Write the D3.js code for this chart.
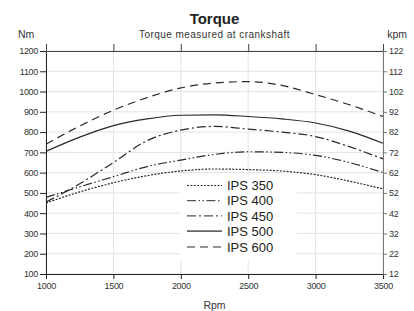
<!DOCTYPE html>
<html>
<head>
<meta charset="utf-8">
<script src="https://cdn.jsdelivr.net/npm/d3@7"></script>
<style>
  body { margin: 0; background: #fff; }
  svg { display: block; font-family: "Liberation Sans", Arial, sans-serif; }
  .tick text { font-size: 9px; letter-spacing: -0.3px; fill: #333; }
</style>
</head>
<body>
<svg id="chart" width="414" height="311"></svg>
<script>
// Torque curves, Nm versus engine speed
const rpm = [1000, 1250, 1500, 1750, 2000, 2250, 2500, 2750, 3000, 3250, 3500];
const ips350 = [450, 505, 550, 585, 608, 618, 615, 608, 590, 558, 520];
const ips400 = [478, 530, 580, 630, 662, 690, 703, 700, 685, 650, 600];
const ips450 = [455, 545, 650, 758, 810, 828, 815, 800, 778, 728, 668];
const ips500 = [705, 775, 832, 865, 883, 885, 877, 865, 845, 805, 745];
const ips600 = [740, 830, 908, 970, 1018, 1042, 1049, 1030, 985, 935, 877];
const seriesNames = ["IPS 350", "IPS 400", "IPS 450", "IPS 500", "IPS 600"];
const rpmTicks = [1000, 1500, 2000, 2500, 3000, 3500];
const nmTicks = [100, 200, 300, 400, 500, 600, 700, 800, 900, 1000, 1100, 1200];
const kpmTicks = [12, 22, 32, 42, 52, 62, 72, 82, 92, 102, 112, 122];

const dashes = ["2,1.4", "9,2.5,1.5,2.5,1.5,2.5", "9,3,2,3", null, "8,5"];

const svg = d3.select("#chart");
const margin = { left: 46, right: 31, top: 51, bottom: 37 };
const W = 414, H = 311;

const x = d3.scaleLinear().domain([1000, 3500]).range([margin.left, W - margin.right]);
const y = d3.scaleLinear().domain([100, 1200]).range([H - margin.bottom, margin.top]);
const yR = d3.scaleLinear().domain([12, 122]).range([H - margin.bottom, margin.top]);
const fmt = d3.format("d");

// grid
svg.append("g")
  .selectAll("line")
  .data(nmTicks)
  .join("line")
  .attr("x1", x(1000)).attr("x2", x(3500))
  .attr("y1", d => y(d)).attr("y2", d => y(d))
  .attr("stroke", "#e3e3e3");

svg.append("g")
  .selectAll("line")
  .data(rpmTicks)
  .join("line")
  .attr("x1", d => x(d)).attr("x2", d => x(d))
  .attr("y1", y(100)).attr("y2", y(1200))
  .attr("stroke", "#e3e3e3");

// curves
const series = [ips350, ips400, ips450, ips500, ips600];
const line = d3.line()
  .x((d, i) => x(rpm[i]))
  .y(d => y(d))
  .curve(d3.curveMonotoneX);

svg.append("g")
  .selectAll("path")
  .data(series)
  .join("path")
  .attr("d", d => line(d))
  .attr("fill", "none")
  .attr("stroke", "#2a2a2a")
  .attr("stroke-width", 1.2)
  .attr("stroke-dasharray", (d, i) => dashes[i]);

// legend
const legend = svg.append("g");
legend.append("rect")
  .attr("x", 180).attr("y", 177)
  .attr("width", 117).attr("height", 84)
  .attr("fill", "#fff");

const rowY = [185.5, 200.7, 215.9, 231.1, 247];
const item = legend.selectAll("g")
  .data(seriesNames)
  .join("g")
  .attr("transform", (d, i) => `translate(0,${rowY[i]})`);

item.append("line")
  .attr("x1", 187).attr("x2", 222)
  .attr("stroke", (d, i) => i === 3 ? "#666" : "#2a2a2a")
  .attr("stroke-width", (d, i) => i === 3 ? 1.8 : 1)
  .attr("stroke-dasharray", (d, i) => dashes[i]);

item.append("text")
  .attr("x", 227)
  .attr("dy", "0.36em")
  .attr("font-size", 13)
  .attr("fill", "#222")
  .text(d => d);

// axes
const axisStyle = (g, color) => {
  g.select(".domain").attr("stroke", color);
  g.selectAll(".tick line").attr("stroke", color);
};

svg.append("g")
  .attr("transform", `translate(0,${y(100)})`)
  .call(d3.axisBottom(x).tickValues(rpmTicks).tickFormat(fmt).tickSize(5).tickSizeOuter(0).tickPadding(4))
  .call(g => axisStyle(g, "#222"));

svg.append("g")
  .attr("transform", `translate(0,${y(1200)})`)
  .call(d3.axisTop(x).tickValues(rpmTicks).tickSize(7).tickSizeOuter(0).tickFormat(""))
  .call(g => axisStyle(g, "#444"));

svg.append("g")
  .attr("transform", `translate(${x(1000)},0)`)
  .call(d3.axisLeft(y).tickValues(nmTicks).tickFormat(fmt).tickSize(6).tickSizeOuter(0).tickPadding(2))
  .call(g => axisStyle(g, "#222"));

svg.append("g")
  .attr("transform", `translate(${x(3500)},0)`)
  .call(d3.axisRight(yR).tickValues(kpmTicks).tickFormat(fmt).tickSize(4).tickSizeOuter(0).tickPadding(2))
  .call(g => axisStyle(g, "#777"));

// titles
const cx = (x(1000) + x(3500)) / 2;
svg.append("text")
  .attr("x", cx).attr("y", 24)
  .attr("text-anchor", "middle")
  .attr("font-size", 15).attr("font-weight", "bold")
  .attr("fill", "#222")
  .text("Torque");

svg.append("text")
  .attr("x", cx).attr("y", 38)
  .attr("text-anchor", "middle")
  .attr("font-size", 10).attr("letter-spacing", "0.45px")
  .attr("fill", "#333")
  .text("Torque measured at crankshaft");

svg.append("text")
  .attr("x", 18).attr("y", 38)
  .attr("font-size", 10.5).attr("fill", "#333")
  .text("Nm");

svg.append("text")
  .attr("x", 407).attr("y", 38)
  .attr("text-anchor", "end")
  .attr("font-size", 10.5).attr("fill", "#333")
  .text("kpm");

svg.append("text")
  .attr("x", cx).attr("y", 309)
  .attr("text-anchor", "middle")
  .attr("font-size", 10.5).attr("fill", "#333")
  .text("Rpm");
</script>
</body>
</html>
